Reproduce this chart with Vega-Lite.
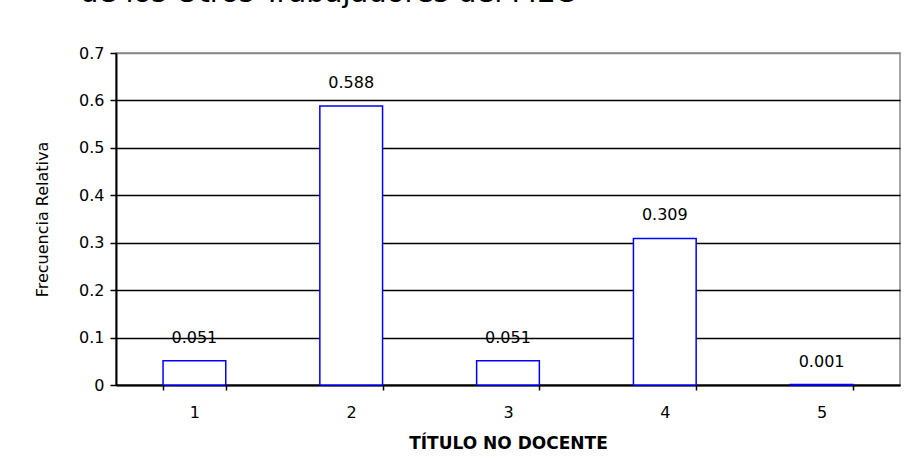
{
  "$schema": "https://vega.github.io/schema/vega-lite/v6.json",
  "width": 784,
  "height": 332,
  "autosize": {"type": "none"},
  "padding": {"left": 116, "top": 53, "right": 12, "bottom": 74},
  "background": "white",
  "title": {
    "text": "de los Otros Trabajadores del MEC",
    "anchor": "start",
    "frame": "group",
    "dx": -36,
    "dy": 16,
    "offset": 30,
    "baseline": "alphabetic",
    "font": "DejaVu Sans",
    "fontSize": 29,
    "fontWeight": "normal",
    "color": "black"
  },
  "data": {
    "values": [
      {"categoria": "1", "frecuencia": 0.051},
      {"categoria": "2", "frecuencia": 0.588},
      {"categoria": "3", "frecuencia": 0.051},
      {"categoria": "4", "frecuencia": 0.309},
      {"categoria": "5", "frecuencia": 0.001}
    ]
  },
  "encoding": {
    "x": {
      "field": "categoria",
      "type": "ordinal",
      "scale": {"paddingInner": 0.6, "paddingOuter": 0.3},
      "axis": {
        "title": "TÍTULO NO DOCENTE",
        "titleFont": "DejaVu Sans",
        "titleFontSize": 17,
        "titleFontWeight": "bold",
        "titleColor": "black",
        "titlePadding": 15,
        "labelAngle": 0,
        "labelFont": "DejaVu Sans",
        "labelFontSize": 16,
        "labelColor": "black",
        "labelPadding": 14,
        "tickBand": "extent",
        "tickSize": 5,
        "tickColor": "black",
        "tickWidth": 1.5,
        "domainColor": "black",
        "domainWidth": 2,
        "grid": false
      }
    },
    "y": {
      "field": "frecuencia",
      "type": "quantitative",
      "scale": {"domain": [0, 0.7], "nice": false},
      "axis": {
        "title": "Frecuencia Relativa",
        "titleFont": "DejaVu Sans",
        "titleFontSize": 16,
        "titleFontWeight": "normal",
        "titleColor": "black",
        "titlePadding": 28,
        "values": [0, 0.1, 0.2, 0.3, 0.4, 0.5, 0.6, 0.7],
        "format": ".1~f",
        "labelFont": "DejaVu Sans",
        "labelFontSize": 16,
        "labelColor": "black",
        "labelPadding": 6,
        "tickSize": 6,
        "tickColor": "black",
        "tickWidth": 1.5,
        "domainColor": "black",
        "domainWidth": 2,
        "grid": true,
        "gridColor": {"condition": {"test": "datum.value >= 0.7", "value": "#888888"}, "value": "black"},
        "gridWidth": 1.5,
        "gridOpacity": 1
      }
    }
  },
  "layer": [
    {
      "mark": {"type": "bar", "fill": "white", "stroke": "#0000FF", "strokeWidth": 1.5}
    },
    {
      "mark": {"type": "text", "baseline": "middle", "dy": -23, "font": "DejaVu Sans", "fontSize": 16, "color": "black"},
      "encoding": {"text": {"field": "frecuencia", "type": "quantitative", "format": ".3f"}}
    }
  ],
  "config": {
    "view": {"stroke": "#888888", "strokeWidth": 1.5}
  }
}
